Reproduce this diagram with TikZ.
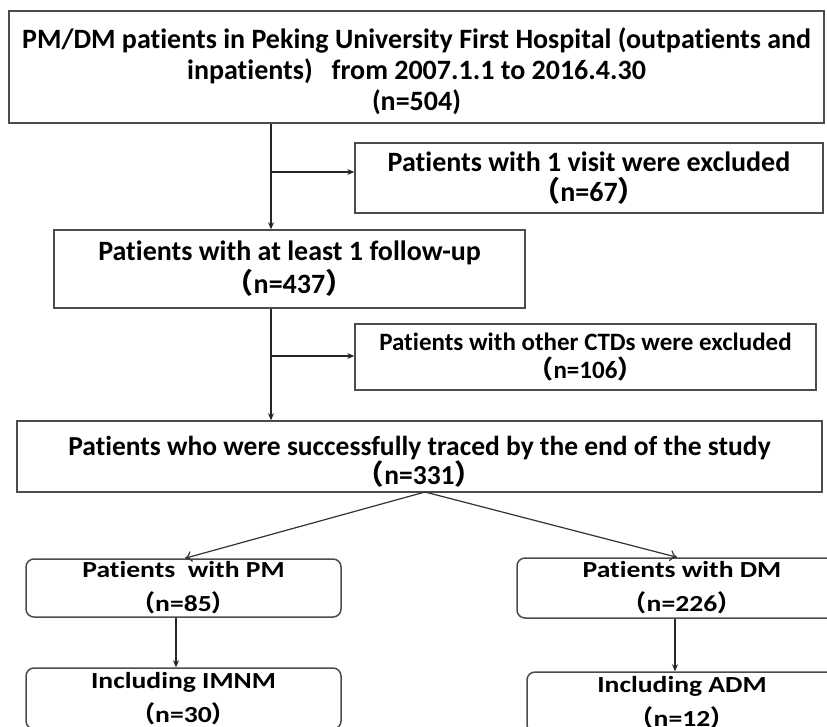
\documentclass[tikz,border=0pt]{standalone}
\usepackage{fontspec}
\setmainfont{Carlito}[Ligatures=NoCommon]
\newfontfamily\widefont{Carlito}[Ligatures=NoCommon, FakeStretch=1.2]
\newfontfamily\cjk{Noto Sans CJK SC}
\usetikzlibrary{arrows.meta, positioning}
\newcommand{\cnt}[1]{{\cjk （}n=#1{\cjk ）}}
\newcommand{\topgap}[1]{\rule{0pt}{#1}}
\tikzset{
  x=1pt, y=1pt,
  >={Stealth[length=7pt, width=6pt]}, % filled heads for the main flow
  every node/.style={font=\fontsize{28}{31}\selectfont\bfseries, align=center, inner sep=0pt},
  box/.style={draw=black!70, line width=1.5pt, rectangle},
  rbox/.style={box, rounded corners=8pt, font=\widefont\fontsize{23}{34}\selectfont\bfseries},
  flow/.style={->, line width=1.2pt, draw=black!85},
  split/.style={-{To[length=7pt, width=11pt]}, line width=1.2pt, draw=black!80}
}
\begin{document}
\begin{tikzpicture}
  \clip (0,0) rectangle (827,-726);
  \fill[white] (0,0) rectangle (827,-726);

  \node[box, minimum width=815, minimum height=112] (all) at (416.5,-67)
    {\topgap{30pt}PM/DM patients in Peking University First Hospital (outpatients and\\
     inpatients)\ \ \ from 2007.1.1 to 2016.4.30\\ (n=504)};
  \node[box, minimum width=468, minimum height=70, font=\fontsize{28}{30}\selectfont\bfseries] (onevisit) at (589,-178)
    {Patients with 1 visit were excluded\\ \cnt{67}};
  \node[box, minimum width=471, minimum height=78, font=\fontsize{28}{33}\selectfont\bfseries] (followup) at (289.5,-269)
    {Patients with at least 1 follow-up\\ \cnt{437}};
  \node[box, minimum width=461, minimum height=66, font=\fontsize{25}{28}\selectfont\bfseries] (ctd) at (585.5,-357)
    {Patients with other CTDs were excluded\\ \cnt{106}};
  \node[box, minimum width=805, minimum height=71, font=\fontsize{27.5}{28}\selectfont\bfseries] (traced) at (419.5,-456.5)
    {\topgap{30pt}Patients who were successfully traced by the end of the study\\ \cnt{331}};
  \node[rbox, minimum width=315, minimum height=58] (pm) at (183.5,-588)
    {Patients\ \ with PM\\ \cnt{85}};
  \node[rbox, minimum width=330, minimum height=60] (dm) at (682,-588)
    {Patients with DM\\ \cnt{226}};
  \node[rbox, minimum width=315, minimum height=61] (imnm) at (183.5,-698.5)
    {Including IMNM\\ \cnt{30}};
  \node[rbox, minimum width=310, minimum height=61] (adm) at (682,-702.5)
    {Including ADM\\ \cnt{12}};

  % exclusion branches
  \coordinate (j1) at (271,-172);
  \coordinate (j2) at (271,-356);
  \draw[flow] (all.south -| j1) -- (followup.north -| j1);
  \draw[flow] (j1) -- (j1 -| onevisit.west);
  \draw[flow] (followup.south -| j2) -- (traced.north -| j2);
  \draw[flow] (j2) -- (j2 -| ctd.west);

  % subgroups
  \coordinate (fork) at (425,-492);
  \draw[split] (fork) -- ([xshift=1.5pt]pm.north);
  \draw[split] (fork) -- ([xshift=-5pt]dm.north);
  \draw[flow] ([xshift=-7.5pt]pm.south) -- ([xshift=-7.5pt]pm.south |- imnm.north);
  \draw[flow] ([xshift=-7pt]dm.south) -- ([xshift=-7pt]dm.south |- adm.north);
\end{tikzpicture}
\end{document}
